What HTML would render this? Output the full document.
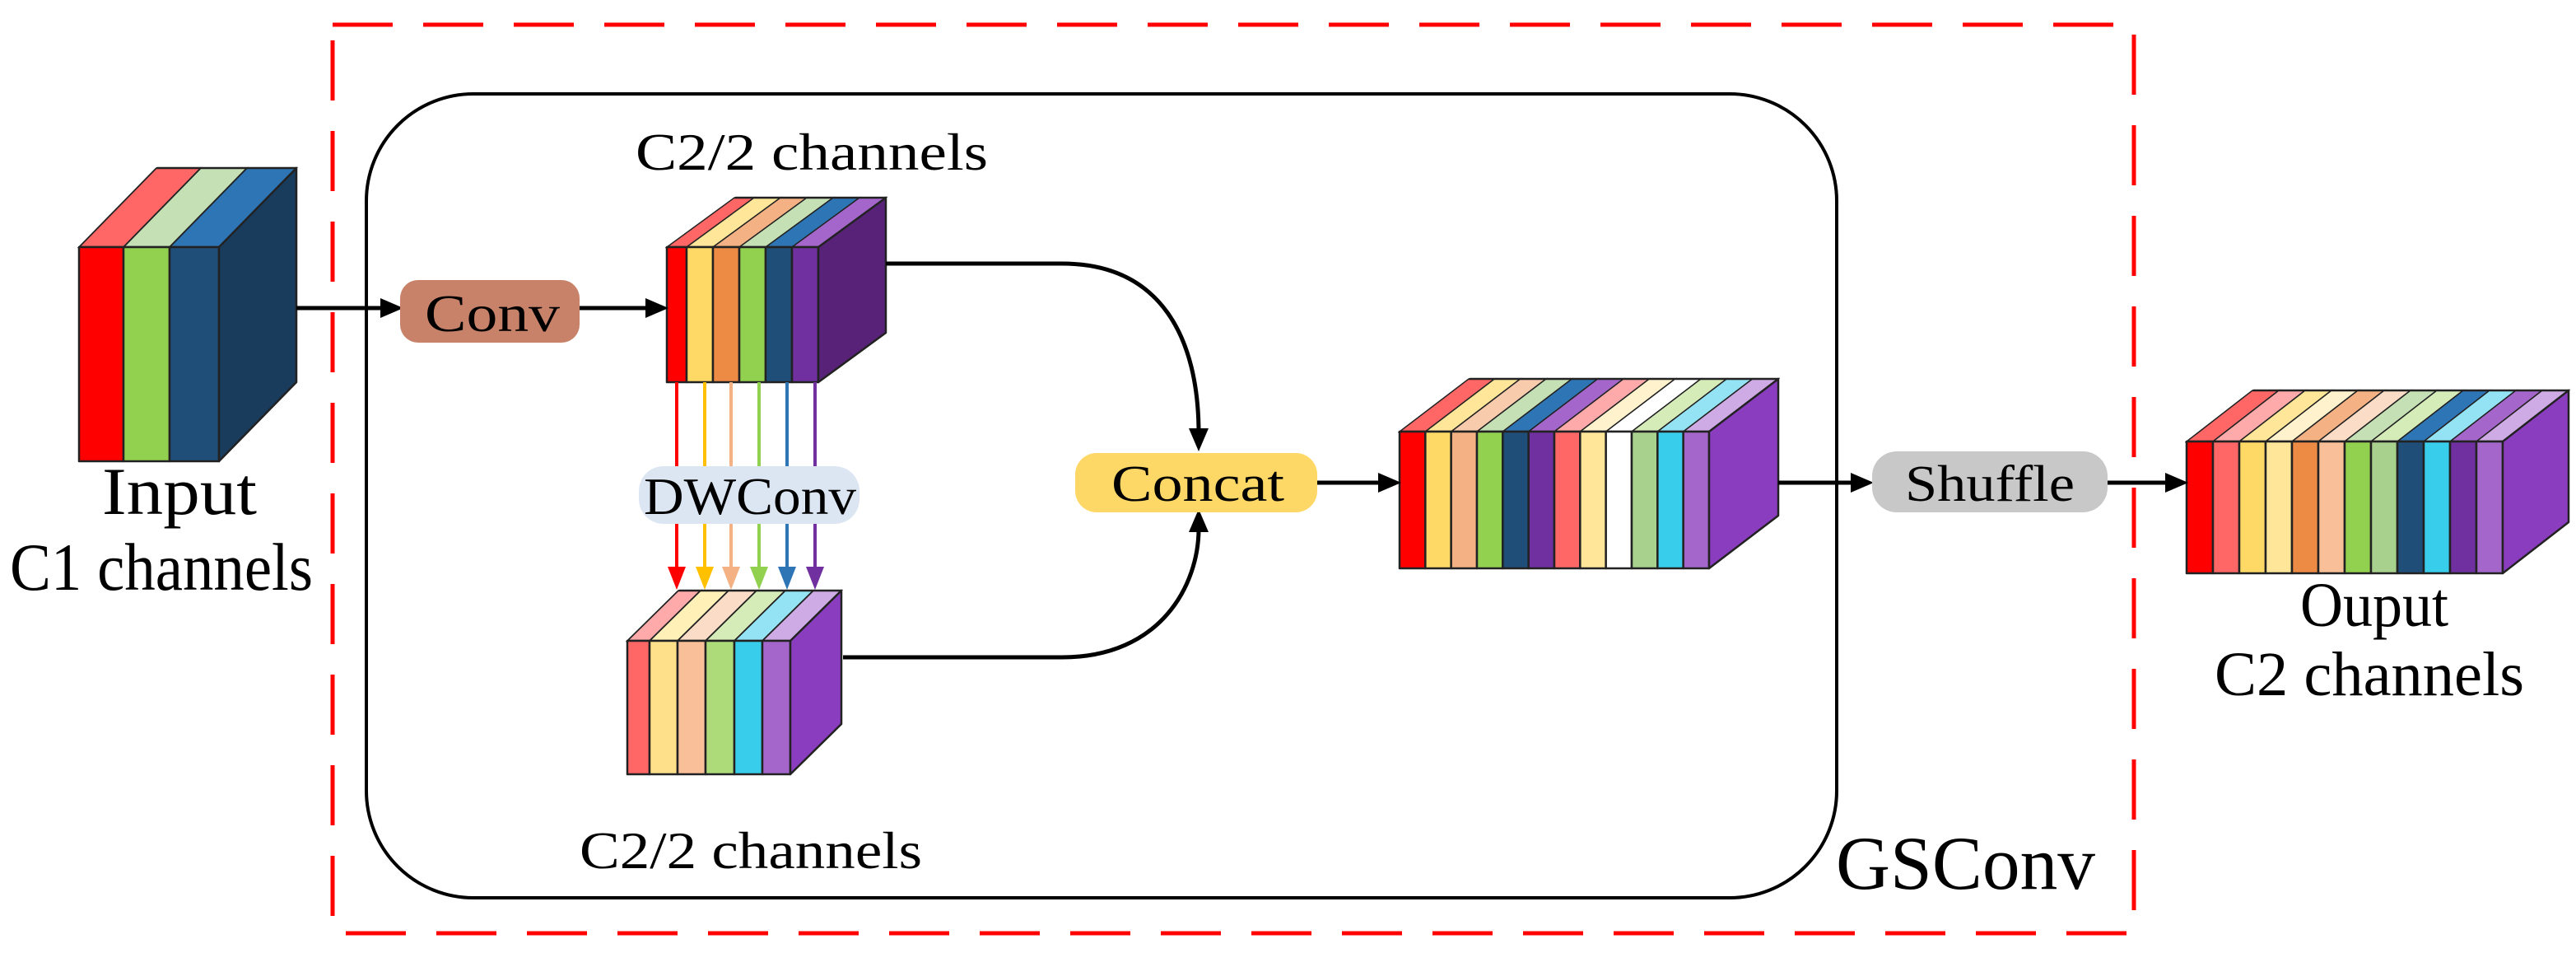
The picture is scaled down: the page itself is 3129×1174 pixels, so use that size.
<!DOCTYPE html>
<html><head><meta charset="utf-8"><style>
html,body{margin:0;padding:0;background:#fff;}
svg{display:block;}
text{font-family:"Liberation Serif","Times New Roman",serif;fill:#000;}
.b rect,.b polygon{stroke:#222;stroke-width:2.5;stroke-linejoin:round;}
</style></head><body>
<svg width="3129" height="1174" viewBox="0 0 3129 1174" xmlns="http://www.w3.org/2000/svg">
<rect x="0" y="0" width="3129" height="1174" fill="#fff"/>
<rect x="404" y="30" width="2188" height="1103" fill="none" stroke="#ff0000" stroke-width="5" stroke-dasharray="73 37"/>
<rect x="445" y="114" width="1786" height="976" rx="130" ry="130" fill="none" stroke="#000" stroke-width="4"/>

<!-- Input block -->
<g class="b">
<g transform="translate(0,300) matrix(1 0 -0.979 1 0 0)">
<rect x="96" y="-96" width="54" height="96" fill="#ff6666"/>
<rect x="150" y="-96" width="56" height="96" fill="#c5e0b4"/>
<rect x="206" y="-96" width="60" height="96" fill="#2e75b6"/>
</g>
<rect x="96" y="300" width="54" height="260" fill="#ff0000"/>
<rect x="150" y="300" width="56" height="260" fill="#92d050"/>
<rect x="206" y="300" width="60" height="260" fill="#1f4e79"/>
<polygon points="266,300 360,204 360,464 266,560" fill="#193b5c"/>
</g>

<!-- Top C2/2 block -->
<g class="b">
<g transform="translate(0,300) matrix(1 0 -1.367 1 0 0)">
<rect x="810" y="-60" width="24" height="60" fill="#ff6666"/>
<rect x="834" y="-60" width="32" height="60" fill="#ffe699"/>
<rect x="866" y="-60" width="32" height="60" fill="#f4b183"/>
<rect x="898" y="-60" width="32" height="60" fill="#c5e0b4"/>
<rect x="930" y="-60" width="32" height="60" fill="#2e75b6"/>
<rect x="962" y="-60" width="32" height="60" fill="#a566cc"/>
</g>
<rect x="810" y="300" width="24" height="164" fill="#ff0000"/>
<rect x="834" y="300" width="32" height="164" fill="#ffd966"/>
<rect x="866" y="300" width="32" height="164" fill="#ed8b45"/>
<rect x="898" y="300" width="32" height="164" fill="#92d050"/>
<rect x="930" y="300" width="32" height="164" fill="#1f4e79"/>
<rect x="962" y="300" width="32" height="164" fill="#7030a0"/>
<polygon points="994,300 1076,240 1076,404 994,464" fill="#572277"/>
</g>

<!-- Bottom block -->
<g class="b">
<g transform="translate(0,778) matrix(1 0 -1.016 1 0 0)">
<rect x="762" y="-61" width="27" height="61" fill="#ffaaaa"/>
<rect x="789" y="-61" width="34" height="61" fill="#fff0b8"/>
<rect x="823" y="-61" width="34" height="61" fill="#fbdcc6"/>
<rect x="857" y="-61" width="35" height="61" fill="#d5ecb9"/>
<rect x="892" y="-61" width="34" height="61" fill="#93e3f5"/>
<rect x="926" y="-61" width="34" height="61" fill="#cfabe5"/>
</g>
<rect x="762" y="778" width="27" height="162" fill="#ff6666"/>
<rect x="789" y="778" width="34" height="162" fill="#ffe08a"/>
<rect x="823" y="778" width="34" height="162" fill="#f8bf99"/>
<rect x="857" y="778" width="35" height="162" fill="#addb7a"/>
<rect x="892" y="778" width="34" height="162" fill="#38cdeb"/>
<rect x="926" y="778" width="34" height="162" fill="#a566cc"/>
<polygon points="960,778 1022,717 1022,879 960,940" fill="#8a3dbf"/>
</g>

<!-- Big concat block -->
<g class="b">
<g transform="translate(0,524) matrix(1 0 -1.3125 1 0 0)">
<rect x="1700" y="-64" width="31.33" height="64" fill="#ff6666"/>
<rect x="1731.33" y="-64" width="31.33" height="64" fill="#ffe699"/>
<rect x="1762.67" y="-64" width="31.33" height="64" fill="#f8cbad"/>
<rect x="1794" y="-64" width="31.33" height="64" fill="#c5e0b4"/>
<rect x="1825.33" y="-64" width="31.33" height="64" fill="#2e75b6"/>
<rect x="1856.67" y="-64" width="31.33" height="64" fill="#a566cc"/>
<rect x="1888" y="-64" width="31.33" height="64" fill="#ffaaaa"/>
<rect x="1919.33" y="-64" width="31.33" height="64" fill="#fff2cc"/>
<rect x="1950.67" y="-64" width="31.33" height="64" fill="#ffffff"/>
<rect x="1982" y="-64" width="31.33" height="64" fill="#d5ecb9"/>
<rect x="2013.33" y="-64" width="31.33" height="64" fill="#93e3f5"/>
<rect x="2044.67" y="-64" width="31.33" height="64" fill="#cfabe5"/>
</g>
<rect x="1700" y="524" width="31.33" height="166" fill="#ff0000"/>
<rect x="1731.33" y="524" width="31.33" height="166" fill="#ffd966"/>
<rect x="1762.67" y="524" width="31.33" height="166" fill="#f4b183"/>
<rect x="1794" y="524" width="31.33" height="166" fill="#92d050"/>
<rect x="1825.33" y="524" width="31.33" height="166" fill="#1f4e79"/>
<rect x="1856.67" y="524" width="31.33" height="166" fill="#7030a0"/>
<rect x="1888" y="524" width="31.33" height="166" fill="#ff6666"/>
<rect x="1919.33" y="524" width="31.33" height="166" fill="#ffe699"/>
<rect x="1950.67" y="524" width="31.33" height="166" fill="#ffffff"/>
<rect x="1982" y="524" width="31.33" height="166" fill="#a9d18e"/>
<rect x="2013.33" y="524" width="31.33" height="166" fill="#37cdeb"/>
<rect x="2044.67" y="524" width="31.33" height="166" fill="#a566cc"/>
<polygon points="2076,524 2160,460 2160,626 2076,690" fill="#8a3dbf"/>
</g>

<!-- Output block -->
<g class="b">
<g transform="translate(0,536) matrix(1 0 -1.29 1 0 0)">
<rect x="2656" y="-62" width="32" height="62" fill="#ff6666"/>
<rect x="2688" y="-62" width="32" height="62" fill="#ffaaaa"/>
<rect x="2720" y="-62" width="32" height="62" fill="#ffe699"/>
<rect x="2752" y="-62" width="32" height="62" fill="#fff2cc"/>
<rect x="2784" y="-62" width="32" height="62" fill="#f4b183"/>
<rect x="2816" y="-62" width="32" height="62" fill="#fbdcc6"/>
<rect x="2848" y="-62" width="32" height="62" fill="#c5e0b4"/>
<rect x="2880" y="-62" width="32" height="62" fill="#d5ecb9"/>
<rect x="2912" y="-62" width="32" height="62" fill="#2e75b6"/>
<rect x="2944" y="-62" width="32" height="62" fill="#93e3f5"/>
<rect x="2976" y="-62" width="32" height="62" fill="#a566cc"/>
<rect x="3008" y="-62" width="32" height="62" fill="#cfabe5"/>
</g>
<rect x="2656" y="536" width="32" height="160" fill="#ff0000"/>
<rect x="2688" y="536" width="32" height="160" fill="#ff6666"/>
<rect x="2720" y="536" width="32" height="160" fill="#ffd966"/>
<rect x="2752" y="536" width="32" height="160" fill="#ffe699"/>
<rect x="2784" y="536" width="32" height="160" fill="#ed8b45"/>
<rect x="2816" y="536" width="32" height="160" fill="#f8bf99"/>
<rect x="2848" y="536" width="32" height="160" fill="#92d050"/>
<rect x="2880" y="536" width="32" height="160" fill="#a9d18e"/>
<rect x="2912" y="536" width="32" height="160" fill="#1f4e79"/>
<rect x="2944" y="536" width="32" height="160" fill="#37cdeb"/>
<rect x="2976" y="536" width="32" height="160" fill="#7030a0"/>
<rect x="3008" y="536" width="32" height="160" fill="#a566cc"/>
<polygon points="3040,536 3120,474 3120,634 3040,696" fill="#8a3dbf"/>
</g>

<!-- connectors -->
<g stroke="#000" stroke-width="5" fill="none">
<path d="M360 374 H470"/><path d="M704 374 H792"/>
<path d="M1076 320 H1290 C1410 320 1456 410 1456 526"/>
<path d="M1024 798 H1290 C1410 798 1456 710 1456 642"/>
<path d="M1600 586 H1682"/><path d="M2160 586 H2256"/><path d="M2560 586 H2638"/>
</g>
<g fill="#000">
<path d="M462 362 L490 374 L462 386z"/><path d="M784 362 L812 374 L784 386z"/>
<path d="M1444 520 L1456 548 L1468 520z"/><path d="M1444 646 L1456 618 L1468 646z"/>
<path d="M1674 574 L1702 586 L1674 598z"/><path d="M2248 574 L2276 586 L2248 598z"/><path d="M2630 574 L2658 586 L2630 598z"/>
</g>

<!-- DW arrows -->
<g stroke-width="4">
<line x1="822" y1="464" x2="822" y2="692" stroke="#ff0000"/><path d="M811 688 L822 716 L833 688z" fill="#ff0000"/>
<line x1="856" y1="464" x2="856" y2="692" stroke="#ffc000"/><path d="M845 688 L856 716 L867 688z" fill="#ffc000"/>
<line x1="888" y1="464" x2="888" y2="692" stroke="#f4b183"/><path d="M877 688 L888 716 L899 688z" fill="#f4b183"/>
<line x1="922" y1="464" x2="922" y2="692" stroke="#92d050"/><path d="M911 688 L922 716 L933 688z" fill="#92d050"/>
<line x1="956" y1="464" x2="956" y2="692" stroke="#2e75b6"/><path d="M945 688 L956 716 L967 688z" fill="#2e75b6"/>
<line x1="990" y1="464" x2="990" y2="692" stroke="#7030a0"/><path d="M979 688 L990 716 L1001 688z" fill="#7030a0"/>
</g>

<!-- boxes -->
<rect x="486" y="340" width="218" height="76" rx="22" fill="#c8826a"/>
<rect x="776" y="566" width="268" height="70" rx="30" fill="#dce6f2"/>
<rect x="1306" y="550" width="294" height="72" rx="26" fill="#fdd866"/>
<rect x="2274" y="548" width="286" height="74" rx="30" fill="#c8c8c8"/>
<text x="516" y="402" font-size="64" textLength="164" lengthAdjust="spacingAndGlyphs">Conv</text>
<text x="782" y="624" font-size="64" textLength="258" lengthAdjust="spacingAndGlyphs">DWConv</text>
<text x="1350" y="608" font-size="62" textLength="210" lengthAdjust="spacingAndGlyphs">Concat</text>
<text x="2314" y="608" font-size="62" textLength="206" lengthAdjust="spacingAndGlyphs">Shuffle</text>
<text x="772" y="206" font-size="64" textLength="428" lengthAdjust="spacingAndGlyphs">C2/2 channels</text>
<text x="704" y="1054" font-size="64" textLength="416" lengthAdjust="spacingAndGlyphs">C2/2 channels</text>
<text x="124" y="624" font-size="82" textLength="188" lengthAdjust="spacingAndGlyphs">Input</text>
<text x="12" y="716" font-size="82" textLength="368" lengthAdjust="spacingAndGlyphs">C1 channels</text>
<text x="2794" y="760" font-size="76" textLength="180" lengthAdjust="spacingAndGlyphs">Ouput</text>
<text x="2690" y="844" font-size="76" textLength="376" lengthAdjust="spacingAndGlyphs">C2 channels</text>
<text x="2230" y="1079" font-size="92" textLength="315" lengthAdjust="spacingAndGlyphs">GSConv</text>
</svg>
</body></html>
